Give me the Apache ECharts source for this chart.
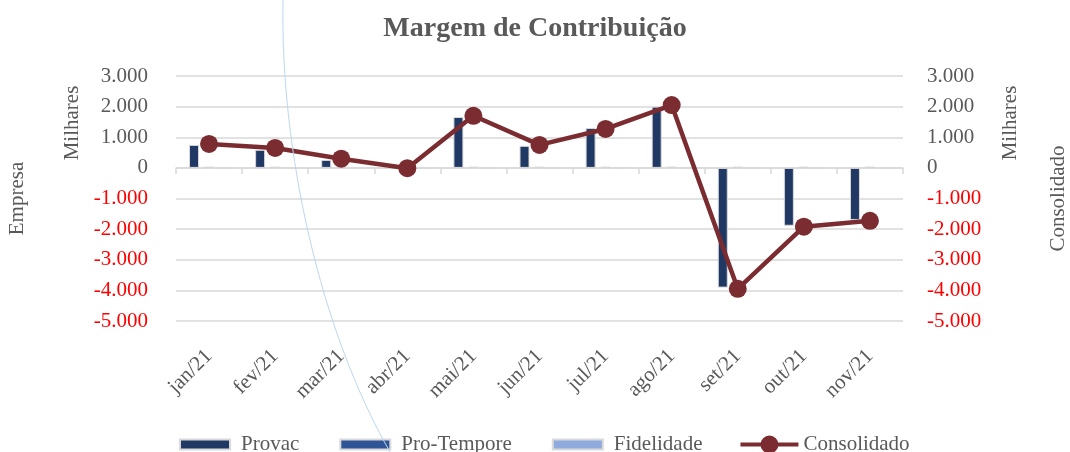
<!DOCTYPE html>
<html><head><meta charset="utf-8">
<script src="https://cdn.jsdelivr.net/npm/echarts@6/dist/echarts.min.js"></script>
<style>html,body{margin:0;padding:0;background:#fff}#c{width:1070px;height:452px}</style>
</head><body><div id="c"></div>
<script>
const categories = ['jan/21','fev/21','mar/21','abr/21','mai/21','jun/21','jul/21','ago/21','set/21','out/21','nov/21'];
const provac = [0.75, 0.59, 0.26, 0.02, 1.66, 0.72, 1.30, 2.00, -3.91, -1.89, -1.70];
const proTempore = [0.04, 0.04, 0.04, 0.04, 0.04, 0.04, 0.04, 0.04, 0.04, 0.04, 0.04];
const fidelidade = [0, 0, 0, 0, 0, 0, 0, 0, 0, 0, 0];
const consolidado = [0.78, 0.65, 0.30, -0.01, 1.70, 0.75, 1.27, 2.05, -3.95, -1.92, -1.73];
const yTicks = {min: -5, max: 3, interval: 1};

const FONT = '"Liberation Serif", "DejaVu Serif", serif';
const GREY = '#595959';
const FS = 21;
function fmt(v){
  if (v === 0) return '0';
  const n = Math.round(v*1000);
  const s = Math.abs(n).toString().replace(/\B(?=(\d{3})+(?!\d))/g, '.');
  return (n < 0 ? '-' : '') + s;
}
const axisLabel = {
  fontFamily: FONT, fontSize: FS,
  formatter: v => v < 0 ? '{neg|' + fmt(v) + '}' : '{pos|' + fmt(v) + '}',
  rich: {neg: {color: '#FF0000', fontFamily: FONT, fontSize: FS}, pos: {color: GREY, fontFamily: FONT, fontSize: FS}}
};
const barIcon = 'path://M0,0M2,4h50v10h-50zM58,18';
const lineIcon = 'path://M0,0M0,7h58v4h-58zM20,9a9,9 0 1,1 18,0a9,9 0 1,1 -18,0zM58,18';
const chart = echarts.init(document.getElementById('c'));
chart.setOption({
  animation: false,
  backgroundColor: '#fff',
  title: {text: 'Margem de Contribuição', left: 'center', top: 10,
    textStyle: {fontFamily: FONT, fontSize: 28, fontWeight: 'bold', color: GREY}},
  grid: {left: 176, right: 167, top: 76, bottom: 131, containLabel: false, outerBoundsMode: 'none'},
  legend: {
    bottom: -8, left: 172, itemWidth: 58, itemHeight: 18, itemGap: 38, symbolKeepAspect: false,
    textStyle: {fontFamily: FONT, fontSize: FS, color: GREY},
    data: [
      {name: 'Provac', icon: barIcon},
      {name: 'Pro-Tempore', icon: barIcon},
      {name: 'Fidelidade', icon: barIcon},
      {name: 'Consolidado', icon: lineIcon}
    ]
  },
  xAxis: [
    {type: 'category', data: categories, axisLine: {onZero: true, lineStyle: {color: '#D9D9D9', width: 1.5}},
     axisTick: {show: true, length: 6, lineStyle: {color: '#D9D9D9', width: 1.5}},
     axisLabel: {show: false}, splitLine: {show: false}},
    {type: 'category', data: categories, position: 'bottom', axisLine: {show: false, onZero: false},
     axisTick: {show: false},
     axisLabel: {rotate: 45, margin: 32, fontFamily: FONT, fontSize: FS, color: GREY}}
  ],
  yAxis: [
    {type: 'value', min: yTicks.min, max: yTicks.max, interval: yTicks.interval,
     name: 'Empresa', nameLocation: 'middle', nameRotate: 90, nameGap: 148,
     nameTextStyle: {fontFamily: FONT, fontSize: FS, color: GREY},
     axisLine: {show: false}, axisTick: {show: false},
     axisLabel: Object.assign({margin: 28}, axisLabel),
     splitLine: {lineStyle: {color: '#D9D9D9', width: 1.5}}},
    {type: 'value', min: yTicks.min, max: yTicks.max, interval: yTicks.interval, position: 'right',
     name: 'Consolidado', nameLocation: 'middle', nameRotate: 90, nameGap: 145,
     nameTextStyle: {fontFamily: FONT, fontSize: FS, color: GREY},
     axisLine: {show: false}, axisTick: {show: false},
     axisLabel: Object.assign({margin: 24}, axisLabel),
     splitLine: {show: false}}
  ],
  graphic: [
    {type: 'text', x: 72, y: 123, rotation: Math.PI/2, style: {text: 'Milhares', fontFamily: FONT, fontSize: FS, fill: GREY, align: 'center', verticalAlign: 'middle'}},
    {type: 'text', x: 1010, y: 123, rotation: Math.PI/2, style: {text: 'Milhares', fontFamily: FONT, fontSize: FS, fill: GREY, align: 'center', verticalAlign: 'middle'}},
    {type: 'bezierCurve', z: 100, silent: true,
     shape: {x1: 283, y1: 0, x2: 390, y2: 452, cpx1: 280, cpy1: 150, cpx2: 320, cpy2: 330},
     style: {stroke: '#BDD7EE', lineWidth: 1, fill: null}}
  ],
  series: [
    {name: 'Provac', type: 'bar', data: provac, barWidth: 10, barGap: '50%',
     itemStyle: {color: '#1F3864', borderColor: '#D9D9D9', borderWidth: 1}},
    {name: 'Pro-Tempore', type: 'bar', data: proTempore, barWidth: 10,
     itemStyle: {color: '#2F5597', borderColor: '#D9D9D9', borderWidth: 1}},
    {name: 'Fidelidade', type: 'bar', data: fidelidade, barWidth: 10,
     itemStyle: {color: '#8FAADC', borderColor: '#D9D9D9', borderWidth: 1}},
    {name: 'Consolidado', type: 'line', yAxisIndex: 1, data: consolidado,
     symbol: 'circle', symbolSize: 18,
     lineStyle: {color: '#7B2C30', width: 4.5}, itemStyle: {color: '#7B2C30'}}
  ]
});
</script></body></html>
